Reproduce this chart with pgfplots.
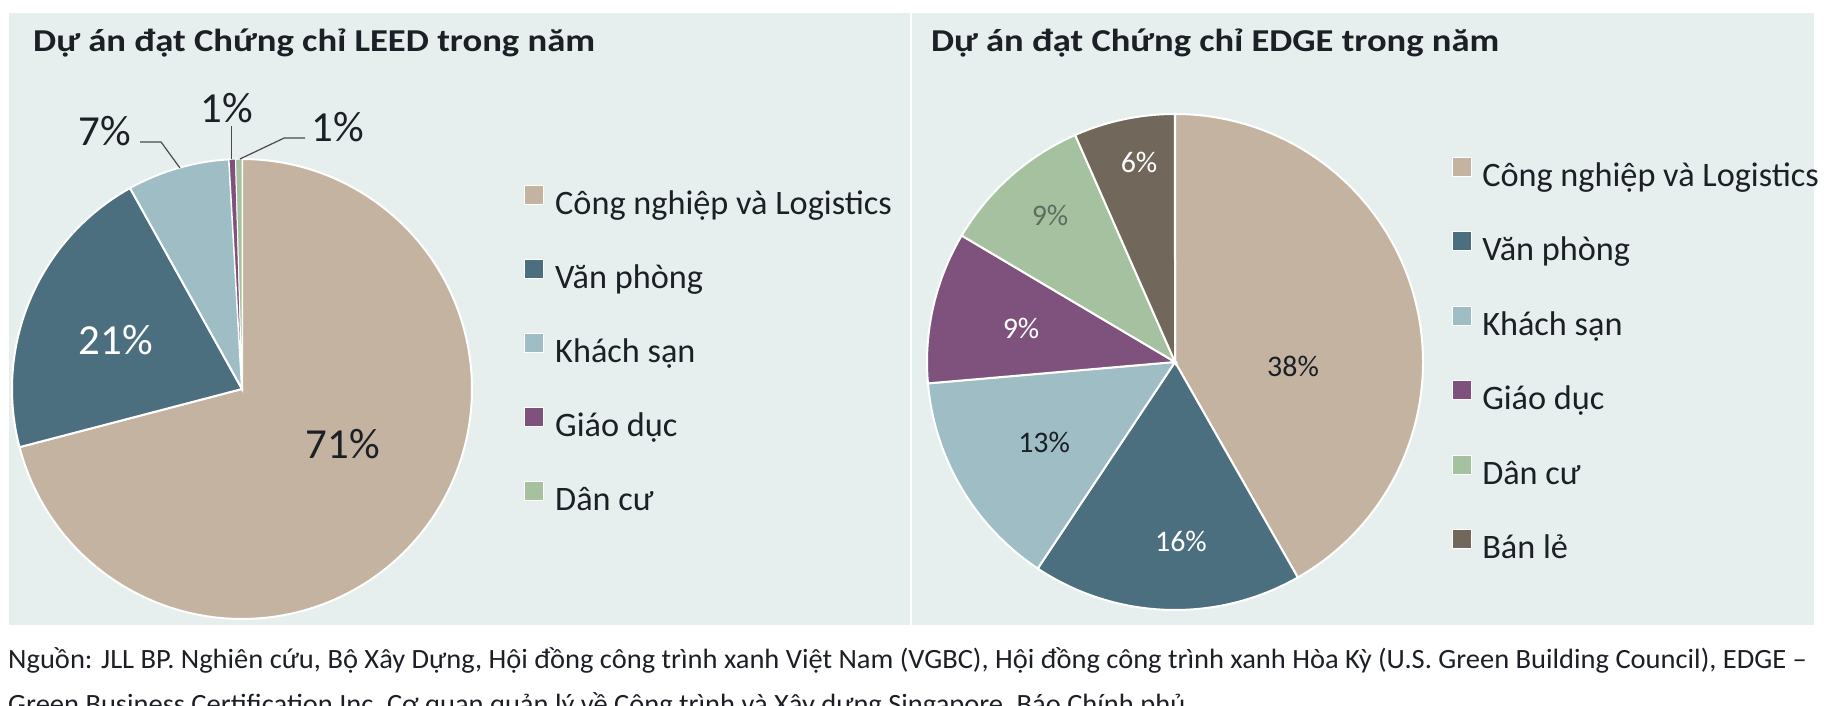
\documentclass[border=0pt]{standalone}
\usepackage{pgfplots}
\pgfplotsset{compat=1.18}
\usepackage{fontspec}
\setmainfont{Carlito}
\usepackage{graphicx}
\definecolor{tanc}{HTML}{C5B3A1}
\definecolor{darkc}{HTML}{4C6F7F}
\definecolor{lightc}{HTML}{9EBDC5}
\definecolor{purplec}{HTML}{7E527C}
\definecolor{greenc}{HTML}{A6C1A0}
\definecolor{brownc}{HTML}{72675B}
\definecolor{bgc}{HTML}{E6EFED}
\definecolor{txtc}{HTML}{1C2026}
\definecolor{leadc}{HTML}{4A4A4A}
\definecolor{g9c}{HTML}{5E6E60}

% LEED values (%)
\def\La{71}\def\Lb{21}\def\Lc{7.2}\def\Ld{0.45}\def\Le{0.45}
% EDGE values (%)
\def\Ea{38}\def\Eb{16}\def\Ec{13}\def\Ed{9}\def\Ee{9}\def\Ef{6}

\pgfmathsetmacro\Lt{\La+\Lb+\Lc+\Ld+\Le}
\pgfmathsetmacro\LA{90}
\pgfmathsetmacro\LB{\LA-\La/\Lt*360}
\pgfmathsetmacro\LC{\LB-\Lb/\Lt*360}
\pgfmathsetmacro\LD{\LC-\Lc/\Lt*360}
\pgfmathsetmacro\LE{\LD-\Ld/\Lt*360}
\pgfmathsetmacro\LF{\LE-\Le/\Lt*360}

\pgfmathsetmacro\Et{\Ea+\Eb+\Ec+\Ed+\Ee+\Ef}
\pgfmathsetmacro\EA{90}
\pgfmathsetmacro\EB{\EA-\Ea/\Et*360}
\pgfmathsetmacro\EC{\EB-\Eb/\Et*360}
\pgfmathsetmacro\ED{\EC-\Ec/\Et*360}
\pgfmathsetmacro\EE{\ED-\Ed/\Et*360}
\pgfmathsetmacro\EF{\EE-\Ee/\Et*360}
\pgfmathsetmacro\EG{\EF-\Ef/\Et*360}

\pgfplotsset{
  pieaxis/.style={
    hide axis, clip=false, scale only axis,
    xmin=-1, xmax=1, ymin=-1, ymax=1,
    legend cell align=left,
    legend image code/.code={\fill[##1, draw=white, line width=1bp] (0bp,0bp) rectangle (19bp,19bp);},
  },
  slice/.style={draw=white, line width=2bp, variable=\t, samples=150},
}

\begin{document}
\begin{tikzpicture}[x=1bp,y=1bp]
\useasboundingbox (0,0) rectangle (1824,706);
\fill[white] (0,0) rectangle (1824,706);
\fill[bgc] (9,81) rectangle (910,693.3);
\fill[bgc] (912,81) rectangle (1814,693.3);

\node[anchor=base west, inner sep=0, text=txtc] at (33,654.3)
  {\resizebox{562bp}{\height}{\fontsize{32}{38}\selectfont\bfseries Dự án đạt Chứng chỉ LEED trong năm}};
\node[anchor=base west, inner sep=0, text=txtc] at (931,654.3)
  {\resizebox{568bp}{\height}{\fontsize{32}{38}\selectfont\bfseries Dự án đạt Chứng chỉ EDGE trong năm}};

% LEED pie
\begin{axis}[pieaxis, width=460bp, height=460bp, at={(242bp,317bp)}, anchor=center,
  legend style={at={(1.113,0.9435)}, anchor=north west, draw=none, fill=none, inner sep=0pt,
    font=\fontsize{34.4}{40}\selectfont, text=txtc, row sep=36.4bp,
    nodes={inner sep=0pt, text height=28bp, text depth=8bp},
    /tikz/every odd column/.append style={column sep=11bp}}]
\addplot[slice, fill=tanc, domain=\LB:\LA] ({cos(\t)},{sin(\t)}) -- (axis cs:0,0) -- cycle;
\addlegendentry{Công nghiệp và Logistics}
\addplot[slice, fill=darkc, domain=\LC:\LB] ({cos(\t)},{sin(\t)}) -- (axis cs:0,0) -- cycle;
\addlegendentry{Văn phòng}
\addplot[slice, fill=lightc, domain=\LD:\LC] ({cos(\t)},{sin(\t)}) -- (axis cs:0,0) -- cycle;
\addlegendentry{Khách sạn}
\addplot[slice, fill=purplec, line width=1bp, domain=\LE:\LD] ({cos(\t)},{sin(\t)}) -- (axis cs:0,0) -- cycle;
\addlegendentry{Giáo dục}
\addplot[slice, fill=greenc, line width=1bp, domain=\LF:\LE] ({cos(\t)},{sin(\t)}) -- (axis cs:0,0) -- cycle;
\addlegendentry{Dân cư}
\addplot[leadc, line width=1.2bp, forget plot] coordinates {(-0.443,1.074) (-0.352,1.074) (-0.270,0.961)};
\addplot[leadc, line width=1.2bp, forget plot] coordinates {(-0.045,1.143) (-0.045,1.0)};
\addplot[leadc, line width=1.2bp, forget plot] coordinates {(0.274,1.091) (0.183,1.091) (-0.009,1.0)};
\node[text=txtc, font=\fontsize{43}{48}\selectfont, inner sep=0] at (axis cs:0.439,-0.239) {71\%};
\node[text=white, font=\fontsize{43}{48}\selectfont, inner sep=0] at (axis cs:-0.548,0.213) {21\%};
\node[text=txtc, font=\fontsize{43}{48}\selectfont, inner sep=0] at (axis cs:-0.596,1.122) {7\%};
\node[text=txtc, font=\fontsize{43}{48}\selectfont, inner sep=0] at (axis cs:-0.065,1.222) {1\%};
\node[text=txtc, font=\fontsize{43}{48}\selectfont, inner sep=0] at (axis cs:0.417,1.139) {1\%};
\end{axis}

% EDGE pie
\begin{axis}[pieaxis, width=496bp, height=496bp, at={(1175bp,344bp)}, anchor=center,
  legend style={at={(1.0585,0.914)}, anchor=north west, draw=none, fill=none, inner sep=0pt,
    font=\fontsize{34.4}{40}\selectfont, text=txtc, row sep=37.0bp,
    nodes={inner sep=0pt, text height=28bp, text depth=8bp},
    /tikz/every odd column/.append style={column sep=10bp}}]
\addplot[slice, fill=tanc, domain=\EB:\EA] ({cos(\t)},{sin(\t)}) -- (axis cs:0,0) -- cycle;
\addlegendentry{Công nghiệp và Logistics}
\addplot[slice, fill=darkc, domain=\EC:\EB] ({cos(\t)},{sin(\t)}) -- (axis cs:0,0) -- cycle;
\addlegendentry{Văn phòng}
\addplot[slice, fill=lightc, domain=\ED:\EC] ({cos(\t)},{sin(\t)}) -- (axis cs:0,0) -- cycle;
\addlegendentry{Khách sạn}
\addplot[slice, fill=purplec, domain=\EE:\ED] ({cos(\t)},{sin(\t)}) -- (axis cs:0,0) -- cycle;
\addlegendentry{Giáo dục}
\addplot[slice, fill=greenc, domain=\EF:\EE] ({cos(\t)},{sin(\t)}) -- (axis cs:0,0) -- cycle;
\addlegendentry{Dân cư}
\addplot[slice, fill=brownc, domain=\EG:\EF] ({cos(\t)},{sin(\t)}) -- (axis cs:0,0) -- cycle;
\addlegendentry{Bán lẻ}
\node[text=txtc, font=\fontsize{30}{36}\selectfont, inner sep=0] at (axis cs:0.476,-0.016) {38\%};
\node[text=white, font=\fontsize{30}{36}\selectfont, inner sep=0] at (axis cs:0.024,-0.722) {16\%};
\node[text=txtc, font=\fontsize{30}{36}\selectfont, inner sep=0] at (axis cs:-0.528,-0.323) {13\%};
\node[text=white, font=\fontsize{30}{36}\selectfont, inner sep=0] at (axis cs:-0.621,0.137) {9\%};
\node[text=g9c, font=\fontsize{30}{36}\selectfont, inner sep=0] at (axis cs:-0.504,0.589) {9\%};
\node[text=white, font=\fontsize{30}{36}\selectfont, inner sep=0] at (axis cs:-0.145,0.806) {6\%};
\end{axis}

% Source
\node[anchor=base west, inner sep=0, text=txtc] at (8,37)
  {\resizebox{1799bp}{\height}{\fontsize{28}{45}\selectfont\begin{tabular}[t]{@{}l@{}}Nguồn: JLL BP. Nghiên cứu, Bộ Xây Dựng, Hội đồng công trình xanh Việt Nam (VGBC), Hội đồng công trình xanh Hòa Kỳ (U.S. Green Building Council), EDGE –\\Green Business Certification Inc, Cơ quan quản lý về Công trình và Xây dựng Singapore, Báo Chính phủ\end{tabular}}};
\end{tikzpicture}
\end{document}
